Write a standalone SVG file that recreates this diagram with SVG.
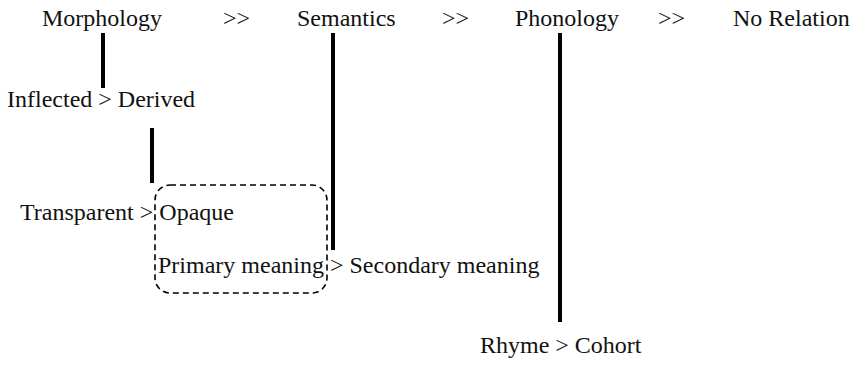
<svg xmlns="http://www.w3.org/2000/svg" width="855" height="366" viewBox="0 0 855 366">
<style>
text{font-family:'Liberation Serif','Times New Roman','DejaVu Serif',serif;font-size:24px;fill:#111}
.bar{stroke:#000;stroke-width:4;fill:none}
.box{stroke:#000;stroke-width:1.6;fill:none;stroke-dasharray:6 4}
</style>
<rect width="855" height="366" fill="#fff"/>
<g id="connectors">
<line class="bar" x1="103" y1="33" x2="103" y2="88"/>
<line class="bar" x1="152" y1="128" x2="152" y2="183"/>
<line class="bar" x1="333" y1="33" x2="333" y2="250"/>
<line class="bar" x1="560" y1="33" x2="560" y2="322"/>
</g>
<g id="group-box">
<rect class="box" x="155" y="185" width="172" height="108" rx="15" ry="15"/>
</g>
<g font-family="Liberation Serif, serif">
<g id="morphology"><text x="42" y="26">Morphology</text></g>
<g id="sep1"><text x="223" y="26">&gt;&gt;</text></g>
<g id="semantics"><text x="297" y="26">Semantics</text></g>
<g id="sep2"><text x="442" y="26">&gt;&gt;</text></g>
<g id="phonology"><text x="515" y="26">Phonology</text></g>
<g id="sep3"><text x="658" y="26">&gt;&gt;</text></g>
<g id="no-relation"><text x="733" y="26">No Relation</text></g>
<g id="inflected"><text x="7" y="107">Inflected &gt; Derived</text></g>
<g id="transparent"><text x="20" y="220">Transparent &gt; Opaque</text></g>
<g id="primary"><text x="158" y="273">Primary meaning &gt; Secondary meaning</text></g>
<g id="rhyme"><text x="480" y="353">Rhyme &gt; Cohort</text></g>
</g>
</svg>
